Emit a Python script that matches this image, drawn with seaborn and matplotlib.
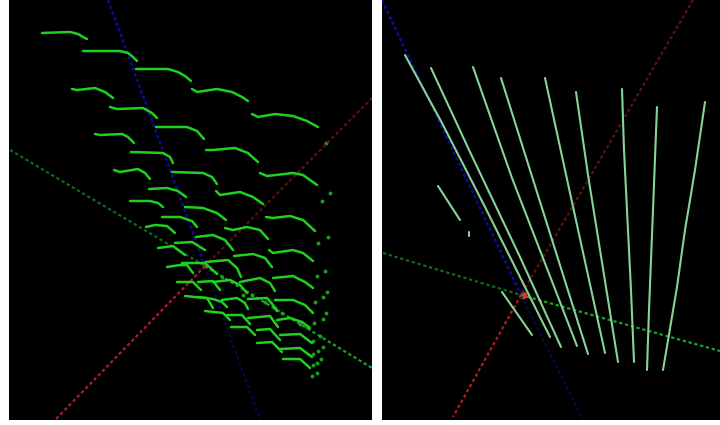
import pandas as pd
import matplotlib
matplotlib.use('Agg')
import matplotlib.pyplot as plt
import seaborn as sns

# Values, in picture pixels
# Left view: the small curved traces, one list per trace
left_traces = [
    [(42, 33), (70, 32), (78, 34), (83, 37), (87, 39)],
    [(83, 51), (120, 51), (128, 53), (133, 57), (137, 61)],
    [(136, 69), (168, 69), (178, 72), (185, 76), (191, 81)],
    [(192, 89), (197, 92), (217, 89), (232, 92), (242, 97), (248, 101)],
    [(252, 114), (258, 117), (275, 114), (293, 116), (307, 121), (318, 127)],
    [(72, 89), (77, 90), (95, 88), (105, 92), (113, 98)],
    [(110, 107), (117, 109), (143, 108), (152, 113), (157, 118)],
    [(156, 127), (187, 127), (197, 131), (204, 139)],
    [(206, 150), (213, 150), (235, 148), (248, 153), (258, 162)],
    [(95, 134), (100, 135), (122, 134), (128, 137), (134, 143)],
    [(131, 152), (163, 153), (170, 157), (173, 163)],
    [(172, 172), (203, 173), (212, 177), (217, 184)],
    [(216, 191), (220, 195), (240, 192), (253, 197), (263, 204)],
    [(260, 173), (267, 176), (293, 173), (303, 175), (317, 185)],
    [(114, 170), (120, 172), (138, 169), (145, 173), (150, 179)],
    [(149, 189), (167, 188), (178, 191), (186, 197)],
    [(130, 201), (150, 201), (158, 203), (163, 207)],
    [(185, 207), (203, 208), (217, 213), (226, 220)],
    [(162, 217), (180, 217), (192, 221), (197, 227)],
    [(146, 227), (155, 225), (167, 226), (175, 233)],
    [(225, 228), (233, 230), (247, 227), (260, 230), (268, 239)],
    [(266, 217), (273, 218), (290, 216), (303, 220), (315, 231)],
    [(196, 237), (213, 235), (225, 240), (233, 250)],
    [(175, 243), (192, 242), (205, 250)],
    [(158, 248), (173, 246), (185, 255)],
    [(234, 256), (253, 254), (265, 258), (272, 267)],
    [(269, 250), (273, 253), (293, 250), (303, 253), (313, 261)],
    [(167, 267), (180, 265), (187, 265), (193, 273)],
    [(182, 263), (205, 263), (217, 274)],
    [(206, 262), (228, 260), (237, 268), (241, 277)],
    [(240, 282), (260, 278), (270, 283), (275, 291)],
    [(273, 278), (293, 276), (305, 282), (313, 288)],
    [(177, 282), (193, 282), (201, 290)],
    [(198, 282), (213, 281), (220, 290)],
    [(213, 282), (230, 280), (240, 285), (247, 293)],
    [(185, 296), (195, 297), (207, 298), (213, 308)],
    [(197, 297), (213, 299), (222, 302), (227, 307)],
    [(222, 300), (237, 298), (245, 303), (248, 309)],
    [(248, 299), (267, 298), (273, 305), (277, 311)],
    [(275, 300), (293, 300), (305, 305), (313, 313)],
    [(205, 311), (223, 313), (230, 320)],
    [(227, 315), (242, 315), (250, 324)],
    [(248, 318), (270, 316), (278, 327)],
    [(277, 320), (290, 318), (302, 322), (310, 328)],
    [(231, 327), (247, 327), (255, 335)],
    [(257, 330), (270, 329), (280, 340)],
    [(280, 335), (300, 334), (312, 343)],
    [(257, 343), (272, 342), (282, 352)],
    [(280, 349), (300, 348), (312, 357)],
    [(283, 359), (300, 359), (310, 368)],
]

# Left view: the isolated specks at the ends of the rows
left_specks_x = [326, 330, 322, 318, 328, 317, 325, 323, 315, 327, 323, 314, 326, 320, 313,
                 318, 323, 313, 321, 317, 313, 317, 312, 243, 252, 265, 275, 282, 300, 307, 222]
left_specks_y = [143, 193, 201, 243, 237, 276, 271, 297, 302, 292, 319, 323, 313, 336, 341,
                 351, 347, 354, 359, 363, 365, 373, 376, 295, 295, 302, 308, 313, 324, 327, 277]

# Right view: the long straight traces
right_traces = [
    [(405, 55), (442, 123), (485, 207), (550, 337)],
    [(431, 68), (470, 152), (520, 257), (561, 347)],
    [(473, 67), (512, 178), (577, 346)],
    [(501, 78), (588, 354)],
    [(545, 78), (565, 170), (605, 353)],
    [(576, 92), (588, 175), (618, 362)],
    [(622, 89), (624, 150), (631, 290), (634, 362)],
    [(657, 107), (653, 210), (649, 310), (647, 370)],
    [(705, 102), (695, 170), (685, 230), (677, 287), (663, 370)],
    [(438, 186), (460, 220)],
    [(469, 232), (469, 236)],
    [(502, 292), (532, 335)],
]

# Coordinate axes: dim part and bright part of each one
left_axes = {
    'blue_bright': [(108, 0), (205, 266)],
    'blue_dim': [(205, 266), (260, 420)],
    'red_dim': [(372, 98), (205, 266)],
    'red_bright': [(205, 266), (55, 420)],
    'green_dim': [(10, 150), (205, 266)],
    'green_bright': [(205, 266), (372, 368)],
}
right_axes = {
    'blue_bright': [(382, 0), (521, 295)],
    'blue_dim': [(521, 295), (583, 420)],
    'red_dim': [(693, 0), (521, 295)],
    'red_bright': [(521, 295), (453, 417)],
    'green_dim': [(383, 253), (521, 295)],
    'green_bright': [(521, 295), (720, 351)],
}
origin_x = [205, 523]
origin_y = [266, 295]

axis_colors = {
    'blue_bright': '#0c0ca8',
    'blue_dim': '#07074e',
    'red_dim': '#5c1212',
    'red_bright': '#b01c24',
    'green_dim': '#0f6a1a',
    'green_bright': '#17a528',
}


def traces_table(traces):
    rows = []
    for i, trace in enumerate(traces):
        for x, y in trace:
            rows.append({'trace': i, 'x': x, 'y': y})
    return pd.DataFrame(rows)


def draw_axes(ax, axes_data):
    for name, pts in axes_data.items():
        part = pd.DataFrame(pts, columns=['x', 'y'])
        sns.lineplot(data=part, x='x', y='y', ax=ax, sort=False, estimator=None,
                     color=axis_colors[name], linewidth=1.6, linestyle=(0, (1.5, 1.2)))


def setup_panel(ax, xlim):
    ax.set_facecolor('black')
    ax.set_xlim(*xlim)
    ax.set_ylim(420, 0)
    ax.set_xlabel('')
    ax.set_ylabel('')
    ax.set_xticks([])
    ax.set_yticks([])
    for spine in ax.spines.values():
        spine.set_visible(False)


W, H = 720, 425
fig = plt.figure(figsize=(7.2, 4.25), dpi=100, facecolor='white')
ax_left = fig.add_axes([9 / W, 1 - 420 / H, 363 / W, 420 / H])
ax_right = fig.add_axes([382 / W, 1 - 420 / H, 338 / W, 420 / H])

# Left view
draw_axes(ax_left, left_axes)
sns.lineplot(data=traces_table(left_traces), x='x', y='y', units='trace', estimator=None,
             sort=False, ax=ax_left, color='#1fd01f', linewidth=1.8,
             solid_joinstyle='round', solid_capstyle='round')
sns.scatterplot(x=left_specks_x, y=left_specks_y, ax=ax_left, color='#1a9a1f', s=8, linewidth=0)
sns.scatterplot(x=origin_x[:1], y=origin_y[:1], ax=ax_left, color='#c02a2a', s=16, linewidth=0)
setup_panel(ax_left, (9, 372))

# Right view
draw_axes(ax_right, right_axes)
sns.lineplot(data=traces_table(right_traces), x='x', y='y', units='trace', estimator=None,
             sort=False, ax=ax_right, color='#86d596', linewidth=1.5,
             solid_joinstyle='round', solid_capstyle='round')
sns.scatterplot(x=origin_x[1:], y=origin_y[1:], ax=ax_right, color='#e0303c', s=30, linewidth=0)
setup_panel(ax_right, (382, 720))

fig.savefig('out.png', dpi=100)
plt.close(fig)
